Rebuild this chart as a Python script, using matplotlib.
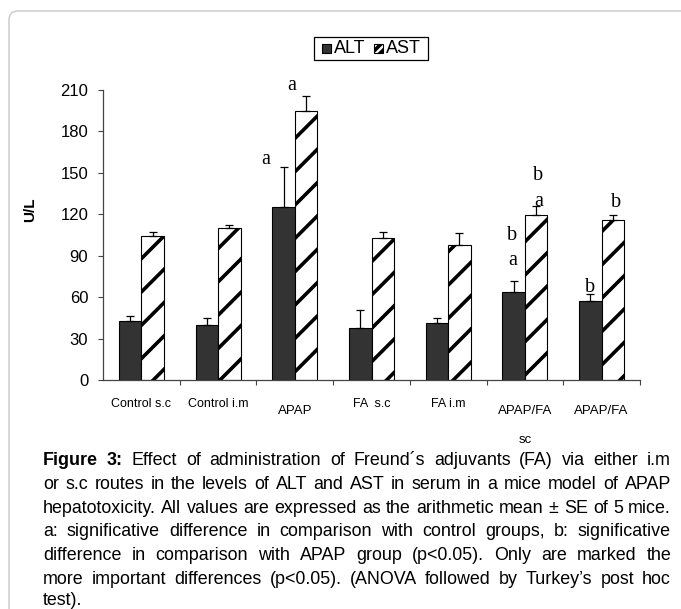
import matplotlib
matplotlib.use('Agg')
import matplotlib.pyplot as plt
from matplotlib import font_manager
from matplotlib.patches import Rectangle, FancyBboxPatch
from matplotlib.transforms import IdentityTransform
import numpy as np

# ---- data -------------------------------------------------------------
groups = ['Control s.c', 'Control i.m', 'APAP', 'FA  s.c', 'FA i.m',
          'APAP/FA', 'APAP/FA']
group_sub = ['', '', '', '', '', 'sc', '']
alt_mean = [43, 40, 125, 38, 41, 64, 57.5]
alt_se = [3, 5, 29.5, 12.5, 4, 8, 5]
ast_mean = [104, 110, 195, 103, 97.5, 119.5, 116]
ast_se = [3.5, 2, 10.5, 4, 9, 6.5, 3.5]
y_ticks = [0, 30, 60, 90, 120, 150, 180, 210]

# significance letters: (group, series, letter)
marks = [(2, 'ALT', 'a'), (2, 'AST', 'a'),
         (5, 'ALT', 'a'), (5, 'ALT', 'b'),
         (5, 'AST', 'a'), (5, 'AST', 'b'),
         (6, 'ALT', 'b'), (6, 'AST', 'b')]

caption = [
    "Figure 3: Effect of administration of Freund´s adjuvants (FA) via either i.m",
    "or s.c routes in the levels of ALT and AST in serum in a mice model of APAP",
    "hepatotoxicity. All values are expressed as the arithmetic mean ± SE of 5 mice.",
    "a: significative difference in comparison with control groups, b: significative",
    "difference in comparison with APAP group (p<0.05). Only are marked the",
    "more important differences (p<0.05). (ANOVA followed by Turkey’s post hoc",
    "test).",
]

# ---- style ------------------------------------------------------------
W, H = 681, 609
plt.rcParams['font.family'] = ['Liberation Sans', 'DejaVu Sans']
plt.rcParams['hatch.linewidth'] = 2.6
installed = {f.name for f in font_manager.fontManager.ttflist}
NARROW = 'Liberation Sans Narrow' if 'Liberation Sans Narrow' in installed else 'Liberation Sans'
narrow = [NARROW, 'DejaVu Sans']
ALT_COLOR = '#333333'
label_size = [9, 9, 9.5, 9, 9, 9.5, 9.5]
label_y = [404, 404, 411, 404, 404, 411, 411]
# offsets (points) of each mark from the top of its error bar
mark_offset = [(-13, 2), (-10.5, 4.5), (-1, 11.5), (-1, 29), (1.5, 0), (1.5, 19),
               (0, 1.5), (2, 6)]

fig = plt.figure(figsize=(W / 100, H / 100), dpi=100)
pix = IdentityTransform()

# rounded frame around the figure panel
fig.add_artist(FancyBboxPatch((9, -60), 760, H - 11 + 60,
                              boxstyle='round,pad=0,rounding_size=9',
                              transform=pix, facecolor='none',
                              edgecolor='#c8c8c8', linewidth=1.0))

ax = fig.add_axes([103 / W, 1 - 380 / H, 537 / W, 290 / H])

x = np.arange(len(groups))
w = 0.293
ax.bar(x - w / 2, alt_mean, w, color=ALT_COLOR, edgecolor='black', linewidth=0.8)
ax.bar(x + w / 2, ast_mean, w, color='white', edgecolor='black', hatch='/',
       linewidth=0.8)
ax.errorbar(x - w / 2, alt_mean, yerr=[np.zeros(len(x)), alt_se], fmt='none',
            ecolor='black', elinewidth=0.9, capsize=2.6, capthick=0.9)
ax.errorbar(x + w / 2, ast_mean, yerr=[np.zeros(len(x)), ast_se], fmt='none',
            ecolor='black', elinewidth=0.9, capsize=2.6, capthick=0.9)

ax.set_xlim(-0.5, len(groups) - 0.5)
ax.set_ylim(0, 210)
ax.set_yticks(y_ticks)
ax.set_xticks(np.arange(0.5, len(groups), 1))
ax.set_xticklabels([])
ax.tick_params(axis='y', direction='out', length=3.6, width=0.8, pad=7,
               labelsize=12, color='#444444')
ax.tick_params(axis='x', direction='out', length=3.6, width=0.8, color='#444444')
for side in ['top', 'right']:
    ax.spines[side].set_visible(False)
for side in ['left', 'bottom']:
    ax.spines[side].set_color('#444444')
    ax.spines[side].set_linewidth(0.9)

# category labels
for i, name in enumerate(groups):
    ax.annotate(name, xy=(i, H - label_y[i]), xycoords=('data', 'figure pixels'),
                ha='center', va='center', fontsize=label_size[i],
                family=narrow, annotation_clip=False)
    if group_sub[i]:
        ax.annotate(group_sub[i], xy=(i, H - 440), xycoords=('data', 'figure pixels'),
                    ha='center', va='center', fontsize=label_size[i],
                    family=narrow, annotation_clip=False)

# significance letters
for (g, series, letter), (dx, dy) in zip(marks, mark_offset):
    if series == 'ALT':
        xpos, top = g - w / 2, alt_mean[g] + alt_se[g]
    else:
        xpos, top = g + w / 2, ast_mean[g] + ast_se[g]
    ax.annotate(letter, xy=(xpos, top), xytext=(dx, dy),
                textcoords='offset points', ha='center', va='baseline',
                fontsize=14.5, family=['Liberation Serif', 'DejaVu Serif'],
                annotation_clip=False)

fig.text(30 / W, 1 - 210 / H, 'U/L', rotation=90, fontweight='bold',
         fontsize=11, ha='center', va='center')

# legend box drawn in pixel units
leg_left, leg_top, leg_w, leg_h = 314, 37, 114, 23
leg_mid = H - leg_top - leg_h / 2
fig.add_artist(Rectangle((leg_left, H - leg_top - leg_h), leg_w, leg_h,
                         transform=pix, facecolor='white', edgecolor='black',
                         linewidth=0.9))
for (mx, tx, name, face, hatch) in [(322, 334, 'ALT', ALT_COLOR, None),
                                    (374, 386, 'AST', 'white', '////')]:
    fig.add_artist(Rectangle((mx, leg_mid - 4.5), 9, 9, transform=pix,
                             facecolor=face, edgecolor='black', hatch=hatch,
                             linewidth=0.8))
    fig.text(tx / W, leg_mid / H, name, ha='left', va='center',
             fontsize=13, family=narrow)

# justified caption, size chosen so the tightest line fills the width
left, right = 43, 671
baselines = [465, 489, 513, 536.5, 560.5, 584, 605]
fig.canvas.draw()
renderer = fig.canvas.get_renderer()
probe = fig.text(0, 0, caption[2], fontsize=10, family=narrow)
cap_size = 10 * (right - left) / probe.get_window_extent(renderer).width
probe.remove()
space = fig.text(0, 0, 'a b', fontsize=cap_size, family=narrow)
pair = fig.text(0, 0, 'ab', fontsize=cap_size, family=narrow)
natural_gap = (space.get_window_extent(renderer).width
               - pair.get_window_extent(renderer).width)
space.remove()
pair.remove()

for n, line in enumerate(caption):
    words = line.split(' ')
    texts = []
    for k, word in enumerate(words):
        bold = n == 0 and k < 2
        t = fig.text(0, 1 - baselines[n] / H, word, fontsize=cap_size,
                     va='baseline', ha='left', family=narrow,
                     fontweight='bold' if bold else 'normal')
        texts.append(t)
    widths = [t.get_window_extent(renderer).width for t in texts]
    if n < len(caption) - 1 and len(words) > 1:
        gap = (right - left - sum(widths)) / (len(words) - 1)
    else:
        gap = natural_gap
    pos = left
    for t, wd in zip(texts, widths):
        t.set_x(pos / W)
        pos += wd + gap

fig.savefig('out.png', dpi=100)
